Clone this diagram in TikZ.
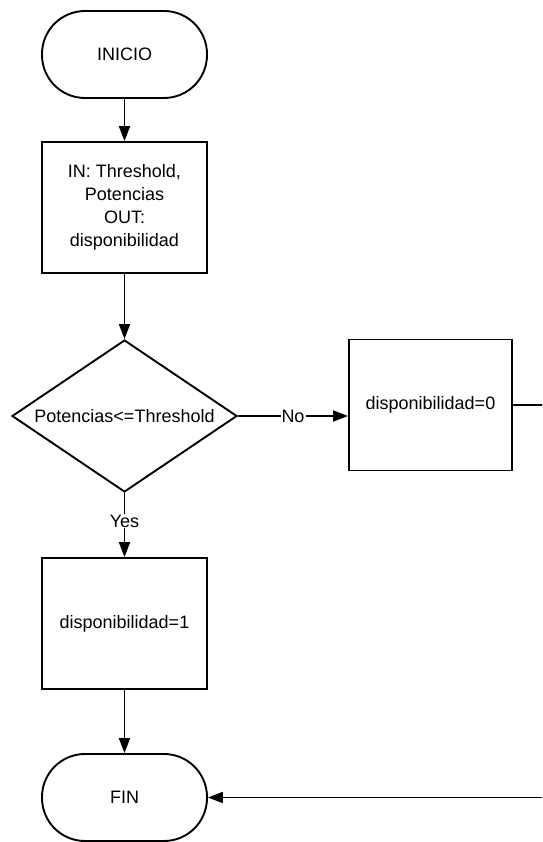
\documentclass[tikz,border=0pt]{standalone}
\usepackage{fontspec}
\setmainfont{Liberation Sans}
\usetikzlibrary{shapes.geometric,arrows.meta}
\tikzset{
  every node/.style={font=\fontsize{18}{23}\selectfont, text=black},
  terminal/.style={draw, line width=1.9pt, rectangle, rounded corners=43pt, minimum width=165pt, minimum height=87pt, inner sep=0pt},
  procbox/.style={draw, line width=1.9pt, rectangle, minimum width=165pt, minimum height=131pt, inner sep=0pt, align=center},
  decision/.style={draw, line width=1.9pt, diamond, shape aspect=1.48, minimum width=225pt, minimum height=152pt, inner sep=0pt},
  conn/.style={line width=1.9pt, -{Triangle[length=15pt,width=11pt]}},
  lbl/.style={fill=white, inner sep=1pt}
}
\begin{document}
\begin{tikzpicture}[x=1pt,y=-1pt]
\useasboundingbox (0,0) rectangle (542,842);
\clip (0,0) rectangle (542,842);
\fill[white] (0,0) rectangle (542,842);
\node[terminal] (inicio) at (124.5,54.5) {INICIO};
\node[procbox] (inout) at (124.5,207.5) {IN: Threshold,\\Potencias\\OUT:\\disponibilidad};
\node[decision] (dec) at (124.5,416) {Potencias<=Threshold};
\node[procbox, minimum width=163pt] (d0) at (430.5,405) {disponibilidad=0};
\node[procbox] (d1) at (124.5,623.5) {disponibilidad=1};
\node[terminal] (fin) at (124.5,797.5) {FIN};
\coordinate (rt) at (580,405);
\draw[conn] (inicio) -- (inout);
\draw[conn] (inout) -- (dec);
\draw[conn] (dec.east) -- node[lbl] {No} (dec.east -| d0.west);
\draw[conn] (dec) -- node[lbl, pos=0.44] {Yes} (d1);
\draw[conn] (d1) -- (fin);
\draw[conn] (d0.east |- rt) -- (rt) |- (fin.east);
\end{tikzpicture}
\end{document}
